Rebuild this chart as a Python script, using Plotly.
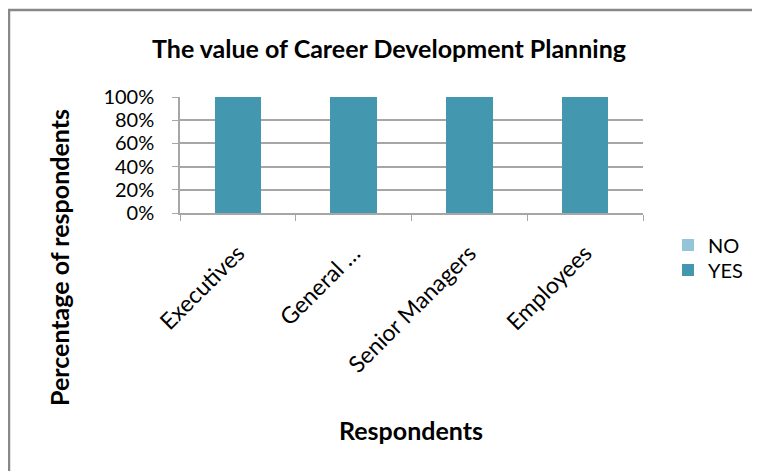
import plotly.graph_objects as go

categories = ["Executives", "General …", "Senior Managers", "Employees"]
yes_values = [1.0, 1.0, 1.0, 1.0]
no_values = [0.0, 0.0, 0.0, 0.0]
y_ticks = [0, 0.2, 0.4, 0.6, 0.8, 1.0]
y_tick_labels = ["0%", "20%", "40%", "60%", "80%", "100%"]

FONT = "Lato, Carlito, Calibri, sans-serif"
W, H = 760, 471
OFF = 8  # page body margin
# plot area in screenshot pixels: x 180..643, y 97..213
L = 180 - OFF
T = 97 - OFF
R = W - (643 - OFF)
B = H - (213 - OFF)
pw, ph = W - L - R, H - T - B

def px_x(p):
    return (p - OFF - L) / pw

def px_y(p):
    return (H - B - (p - OFF)) / ph

fig = go.Figure()
fig.add_trace(go.Bar(name="YES", x=categories, y=yes_values, marker=dict(color="#4398B0", line=dict(width=0)),
                     width=0.4, legend="legend2"))
fig.add_trace(go.Bar(name="NO", x=categories, y=no_values, marker=dict(color="#93C6D6", line=dict(width=0)),
                     width=0.4, legend="legend"))

leg_common = dict(xanchor="left", yanchor="middle", font=dict(size=20, family=FONT),
                  bgcolor="rgba(0,0,0,0)")

fig.update_layout(
    width=W, height=H,
    margin=dict(l=L, r=R, t=T, b=B, autoexpand=False),
    barmode="stack",
    plot_bgcolor="white", paper_bgcolor="white",
    font=dict(family=FONT, color="#000000"),
    showlegend=True,
    legend=dict(x=px_x(668), y=px_y(245), **leg_common),
    legend2=dict(x=px_x(668), y=px_y(270), **leg_common),
    xaxis=dict(
        tickangle=-45, tickfont=dict(size=23, family=FONT),
        showline=True, linecolor="#A6A6A6", linewidth=1.5,
        ticks="outside", tickson="boundaries", ticklen=6, tickcolor="#A6A6A6",
        ticklabelstandoff=16,
        showgrid=False, fixedrange=True,
    ),
    yaxis=dict(
        range=[0, 1], tickvals=y_ticks, ticktext=y_tick_labels,
        tickfont=dict(size=20, family=FONT),
        showline=True, linecolor="#A6A6A6", linewidth=1.5,
        ticks="outside", ticklen=6, tickcolor="#A6A6A6",
        ticklabelstandoff=14,
        showgrid=True, gridcolor="#A6A6A6", gridwidth=1.5,
        zeroline=False, fixedrange=True,
    ),
    annotations=[
        dict(text="<b>The value of Career Development Planning</b>", xref="paper", yref="paper",
             x=px_x(389), y=px_y(48), xanchor="center", yanchor="middle", showarrow=False,
             font=dict(size=25, family=FONT)),
        dict(text="<b>Percentage of respondents</b>", xref="paper", yref="paper",
             x=px_x(59), y=px_y(258), xanchor="center", yanchor="middle", showarrow=False,
             textangle=-90, font=dict(size=25, family=FONT)),
        dict(text="<b>Respondents</b>", xref="paper", yref="paper",
             x=px_x(411), y=px_y(430), xanchor="center", yanchor="middle", showarrow=False,
             font=dict(size=25, family=FONT)),
    ],
    shapes=[
        dict(type="rect", xref="paper", yref="paper",
             x0=px_x(9), x1=px_x(790), y0=px_y(500), y1=px_y(10),
             line=dict(color="#888888", width=2.5), fillcolor="rgba(0,0,0,0)", layer="below"),
    ],
)

fig.write_html("out.html")
